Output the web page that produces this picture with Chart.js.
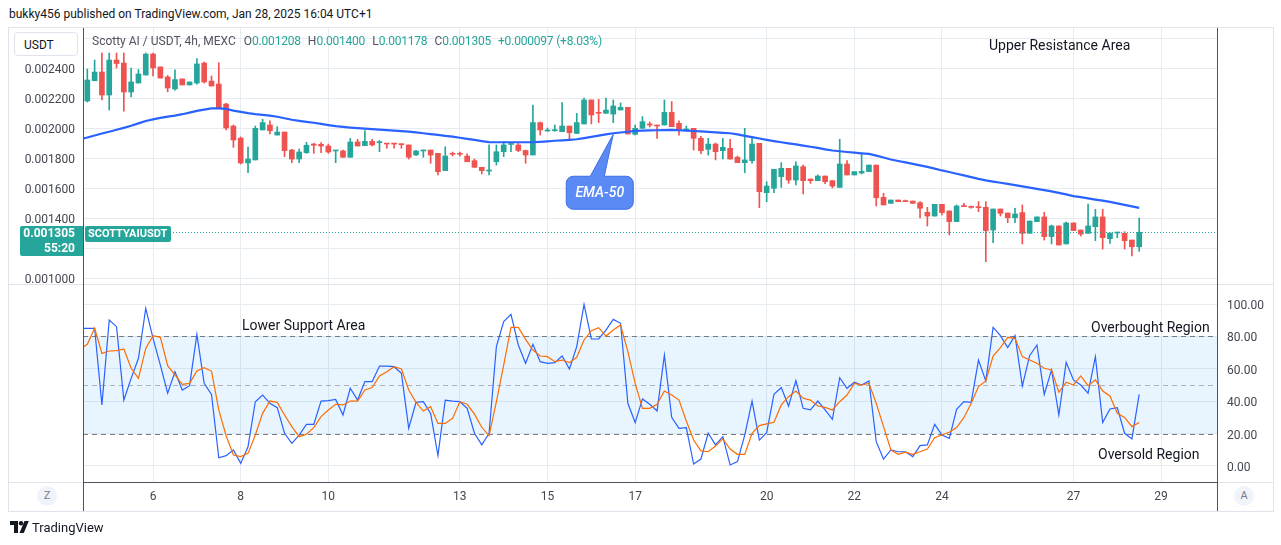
<!DOCTYPE html>
<html>
<head>
<meta charset="utf-8">
<script src="https://cdn.jsdelivr.net/npm/chart.js@4.4.1/dist/chart.umd.min.js"></script>
<style>
  html, body { margin: 0; padding: 0; background: #fff; }
  body { width: 1281px; height: 545px; position: relative; overflow: hidden; font-family: Roboto, "Open Sans", sans-serif; color: #131722; }
  .abs { position: absolute; }
  canvas { position: absolute; }
  #header { left: 9px; top: 7px; font-size: 12px; color: #131722; white-space: nowrap; }
  #legend { left: 92px; top: 34px; font-size: 12px; white-space: nowrap; color: #50535e; }
  #legend .v { color: #26a69a; letter-spacing: -0.2px; }
  #legend .g { margin-left: 7px; }
  .note { font-size: 14px; color: #131722; white-space: nowrap; }
  .circ { width: 20px; height: 20px; border-radius: 50%; background: #f0f3fa; color: #787b86; font-size: 11px; text-align: center; line-height: 20px; }
</style>
</head>
<body>
<div id="header" class="abs">bukky456 published on TradingView.com, Jan 28, 2025 16:04 UTC+1</div>

<!-- frame lines -->
<div class="abs" style="left:8px;top:27px;width:1264px;height:483px;border:1px solid #e0e3eb;"></div>
<div class="abs" style="left:8px;top:284px;width:1265px;height:1px;background:#e0e3eb;"></div>

<canvas id="priceChart" width="1265" height="262" style="left:8px;top:28px;"></canvas>
<canvas id="stochChart" width="1265" height="227" style="left:8px;top:284px;"></canvas>

<div class="abs" style="left:8px;top:482px;width:1265px;height:1px;background:#e0e3eb;"></div>
<div class="abs" style="left:83px;top:482px;width:1134px;height:1px;background:#50535e;"></div>
<div class="abs" style="left:83px;top:28px;width:1px;height:483px;background:#50535e;"></div>
<div class="abs" style="left:1217px;top:28px;width:1px;height:483px;background:#50535e;"></div>

<div class="abs" style="left:14px;top:32px;width:64px;height:24px;border:1px solid #e0e3eb;border-radius:4px;background:#fff;font-size:12px;line-height:24px;color:#131722;box-sizing:border-box;padding-left:9px;">USDT</div>

<div id="legend" class="abs"><span>Scotty AI / USDT, 4h, MEXC</span><span style="margin-left:8px">O</span><span class="v">0.001208</span><span class="g">H</span><span class="v">0.001400</span><span class="g">L</span><span class="v">0.001178</span><span class="g">C</span><span class="v">0.001305</span><span class="v" style="margin-left:7px">+0.000097 (+8.03%)</span></div>

<!-- last price labels -->
<div class="abs" style="left:20px;top:226px;width:63px;height:30px;background:#26a69a;border-radius:2px 0 0 2px;"></div>
<div class="abs" style="left:20px;top:226px;width:55px;text-align:right;font-size:12px;font-weight:bold;color:#fff;line-height:15px;">0.001305<br>55:20</div>
<div class="abs" style="left:85px;top:226px;width:86px;height:16px;background:#26a69a;border-radius:2px;font-size:11px;font-weight:bold;color:#fff;line-height:16px;box-sizing:border-box;padding-left:3px;white-space:nowrap;">SCOTTYAIUSDT</div>

<!-- text drawings -->
<div class="abs note" style="left:989px;top:37px;">Upper Resistance Area</div>
<div class="abs note" style="left:242px;top:317px;">Lower Support Area</div>
<div class="abs note" style="left:1091px;top:319px;">Overbought Region</div>
<div class="abs note" style="left:1098px;top:446px;">Oversold Region</div>

<div class="abs circ" style="left:37px;top:486px;">Z</div>
<div class="abs circ" style="left:1234px;top:486px;">A</div>

<div class="abs" style="left:10px;top:520px;height:14px;display:flex;align-items:center;">
  <svg width="19" height="12" viewBox="0 0 19 12"><path d="M0 0h8v12H4V4H0z" fill="#131722"/><circle cx="11" cy="2.2" r="2.2" fill="#131722"/><path d="M14.5 0h4.3l-5 12H9.5z" fill="#131722"/></svg>
  <span style="font-size:13px;color:#131722;margin-left:3px;">TradingView</span>
</div>

<script>
// ---------- data ----------
const dayLabels = ['6', '8', '10', '13', '15', '17', '20', '22', '24', '27', '29'];
const dayTickIndex = [9, 21, 33, 51, 63, 75, 93, 105, 117, 135, 147];

const priceTicks = [0.0010, 0.0012, 0.0014, 0.0016, 0.0018, 0.0020, 0.0022, 0.0024, 0.0026];
const priceTickLabels = ['0.001000', '', '0.001400', '0.001600', '0.001800', '0.002000', '0.002200', '0.002400', ''];
const stochTicks = [0, 20, 40, 60, 80, 100];

const opens = [0.002180,0.002315,0.002373,0.002220,0.002453,0.002433,0.002240,0.002300,0.002353,0.002493,
0.002407,0.002340,0.002260,0.002327,0.002287,0.002300,0.002433,0.002313,0.002293,0.002160,
0.002013,0.001933,0.001767,0.001787,0.001987,0.002020,0.001953,0.001973,0.001853,0.001793,
0.001835,0.001893,0.001891,0.001880,0.001847,0.001847,0.001805,0.001907,0.001882,0.001911,
0.001902,0.001898,0.001898,0.001893,0.001887,0.001821,0.001847,0.001853,0.001831,0.001716,
0.001829,0.001829,0.001813,0.001782,0.001738,0.001713,0.001775,0.001842,0.001890,0.001887,
0.001850,0.001820,0.002036,0.001980,0.001982,0.001976,0.002013,0.001964,0.002027,0.002187,
0.002104,0.002098,0.002093,0.002120,0.002138,0.001958,0.001998,0.002027,0.002020,0.002020,
0.002104,0.002031,0.001987,0.001998,0.001931,0.001858,0.001893,0.001849,0.001865,0.001805,
0.001769,0.001782,0.001898,0.001569,0.001598,0.001676,0.001731,0.001653,0.001742,0.001660,
0.001649,0.001680,0.001649,0.001604,0.001760,0.001687,0.001700,0.001709,0.001753,0.001538,
0.001498,0.001520,0.001513,0.001513,0.001502,0.001438,0.001413,0.001491,0.001447,0.001376,
0.001480,0.001473,0.001473,0.001471,0.001320,0.001460,0.001433,0.001402,0.001436,0.001298,
0.001376,0.001407,0.001276,0.001347,0.001227,0.001367,0.001320,0.001298,0.001342,0.001407,
0.001262,0.001300,0.001298,0.001253,0.001208];
const highs = [0.002393,0.002453,0.002500,0.002500,0.002500,0.002500,0.002400,0.002390,0.002500,0.002500,
0.002407,0.002350,0.002387,0.002327,0.002307,0.002463,0.002440,0.002347,0.002435,0.002165,
0.002020,0.001940,0.001873,0.002013,0.002058,0.002047,0.002009,0.001973,0.001858,0.001860,
0.001905,0.001898,0.001902,0.001893,0.001851,0.001853,0.001931,0.001925,0.001982,0.001925,
0.001917,0.001898,0.001898,0.001893,0.001887,0.001851,0.001853,0.001853,0.001831,0.001875,
0.001840,0.001840,0.001827,0.001793,0.001738,0.001887,0.001887,0.001909,0.001897,0.001897,
0.001853,0.002153,0.002040,0.002000,0.002020,0.002169,0.002013,0.002098,0.002200,0.002187,
0.002191,0.002200,0.002187,0.002167,0.002138,0.002020,0.002076,0.002040,0.002020,0.002187,
0.002176,0.002047,0.002013,0.001998,0.001945,0.001931,0.001900,0.001931,0.001925,0.001813,
0.001998,0.001931,0.001898,0.001642,0.001725,0.001769,0.001731,0.001775,0.001753,0.001660,
0.001687,0.001680,0.001649,0.001925,0.001782,0.001709,0.001831,0.001753,0.001753,0.001565,
0.001520,0.001520,0.001520,0.001513,0.001509,0.001471,0.001491,0.001491,0.001447,0.001487,
0.001498,0.001480,0.001509,0.001509,0.001460,0.001460,0.001433,0.001464,0.001487,0.001380,
0.001407,0.001438,0.001353,0.001347,0.001373,0.001367,0.001320,0.001493,0.001458,0.001458,
0.001300,0.001302,0.001309,0.001253,0.001400];
const lows = [0.002173,0.002315,0.002187,0.002120,0.002400,0.002113,0.002207,0.002300,0.002353,0.002347,
0.002333,0.002242,0.002253,0.002287,0.002287,0.002293,0.002300,0.002280,0.002131,0.001987,
0.001871,0.001760,0.001702,0.001787,0.001987,0.001960,0.001953,0.001809,0.001769,0.001769,
0.001831,0.001831,0.001835,0.001831,0.001769,0.001805,0.001805,0.001880,0.001882,0.001880,
0.001842,0.001865,0.001865,0.001865,0.001793,0.001815,0.001805,0.001765,0.001687,0.001716,
0.001813,0.001813,0.001775,0.001738,0.001693,0.001687,0.001753,0.001809,0.001842,0.001842,
0.001765,0.001820,0.001953,0.001978,0.001978,0.001976,0.001925,0.001964,0.002027,0.002027,
0.002036,0.002098,0.002036,0.002120,0.001960,0.001953,0.001998,0.002007,0.001931,0.002020,
0.002009,0.001953,0.001982,0.001853,0.001829,0.001820,0.001787,0.001793,0.001793,0.001769,
0.001702,0.001765,0.001469,0.001509,0.001569,0.001604,0.001631,0.001620,0.001560,0.001631,
0.001649,0.001629,0.001600,0.001604,0.001687,0.001687,0.001693,0.001709,0.001480,0.001487,
0.001498,0.001509,0.001509,0.001498,0.001400,0.001347,0.001413,0.001420,0.001287,0.001376,
0.001476,0.001465,0.001442,0.001109,0.001235,0.001413,0.001369,0.001369,0.001227,0.001298,
0.001376,0.001253,0.001227,0.001220,0.001227,0.001316,0.001280,0.001298,0.001249,0.001193,
0.001231,0.001269,0.001193,0.001147,0.001178];
const closes = [0.002320,0.002373,0.002220,0.002453,0.002430,0.002240,0.002307,0.002360,0.002493,0.002400,
0.002333,0.002267,0.002323,0.002287,0.002307,0.002427,0.002307,0.002280,0.002131,0.002000,
0.001920,0.001767,0.001793,0.001998,0.002036,0.001982,0.001973,0.001849,0.001793,0.001840,
0.001885,0.001885,0.001880,0.001840,0.001851,0.001805,0.001907,0.001880,0.001911,0.001887,
0.001905,0.001893,0.001893,0.001889,0.001805,0.001847,0.001853,0.001820,0.001709,0.001813,
0.001825,0.001825,0.001775,0.001738,0.001716,0.001720,0.001842,0.001887,0.001897,0.001850,
0.001820,0.002036,0.001987,0.001984,0.001986,0.002013,0.001969,0.002036,0.002187,0.002087,
0.002098,0.002120,0.002147,0.002138,0.001960,0.001998,0.002042,0.002020,0.002013,0.002104,
0.002009,0.001987,0.001990,0.001931,0.001849,0.001893,0.001842,0.001871,0.001793,0.001769,
0.001787,0.001893,0.001575,0.001613,0.001725,0.001731,0.001653,0.001747,0.001649,0.001649,
0.001680,0.001642,0.001613,0.001760,0.001687,0.001709,0.001711,0.001753,0.001535,0.001487,
0.001520,0.001509,0.001509,0.001498,0.001465,0.001413,0.001491,0.001436,0.001376,0.001480,
0.001476,0.001471,0.001469,0.001316,0.001460,0.001431,0.001402,0.001427,0.001298,0.001380,
0.001407,0.001276,0.001347,0.001220,0.001367,0.001316,0.001293,0.001347,0.001407,0.001269,
0.001300,0.001302,0.001249,0.001208,0.001305];

// indicator series start one bar before the first candle (index -1)
const indicatorStart = -1;
const ema50 = [0.001925,
0.001937,0.001950,0.001963,0.001975,0.001988,0.002001,0.002015,0.002031,0.002047,0.002058,
0.002067,0.002076,0.002083,0.002092,0.002103,0.002114,0.002123,0.002131,0.002131,0.002127,
0.002116,0.002108,0.002099,0.002092,0.002087,0.002082,0.002075,0.002065,0.002055,0.002048,
0.002041,0.002035,0.002027,0.002019,0.002012,0.002007,0.002003,0.001999,0.001996,0.001993,
0.001989,0.001986,0.001983,0.001979,0.001976,0.001971,0.001965,0.001959,0.001954,0.001948,
0.001942,0.001935,0.001928,0.001921,0.001913,0.001906,0.001905,0.001905,0.001905,0.001905,
0.001905,0.001905,0.001908,0.001911,0.001915,0.001918,0.001921,0.001925,0.001933,0.001941,
0.001949,0.001957,0.001965,0.001970,0.001975,0.001981,0.001983,0.001984,0.001985,0.001986,
0.001987,0.001985,0.001983,0.001980,0.001977,0.001974,0.001971,0.001968,0.001965,0.001957,
0.001948,0.001939,0.001930,0.001921,0.001913,0.001905,0.001898,0.001891,0.001883,0.001875,
0.001867,0.001858,0.001850,0.001845,0.001840,0.001836,0.001831,0.001827,0.001816,0.001803,
0.001790,0.001780,0.001771,0.001761,0.001751,0.001741,0.001729,0.001717,0.001707,0.001695,
0.001684,0.001673,0.001661,0.001651,0.001643,0.001635,0.001627,0.001619,0.001611,0.001603,
0.001594,0.001586,0.001577,0.001567,0.001557,0.001546,0.001539,0.001531,0.001523,0.001516,
0.001507,0.001497,0.001487,0.001477,0.001467];
const stochK = [85,
85.0,85.0,37.7,90.1,86.0,40.7,54.1,66.5,97.3,78.8,
62.3,44.9,58.2,46.9,49.6,81.3,51.0,44.2,5.1,6.4,
9.9,1.6,11.9,39.7,43.8,38.7,36.0,20.2,14.0,19.1,
25.7,25.7,40.1,40.3,41.1,31.5,48.0,40.7,52.1,52.1,
61.7,61.7,61.3,57.2,23.3,39.3,39.7,32.5,6.4,40.7,
40.1,39.7,35.6,20.2,13.0,20.2,73.7,89.1,93.6,74.7,
63.4,75.1,64.4,63.4,63.8,67.9,59.9,73.7,99.8,78.4,
78.4,83.9,90.5,88.1,38.7,26.8,41.4,38.1,34.0,68.5,
30.0,23.3,23.7,1.2,4.3,20.2,13.0,18.1,0.6,2.7,
19.1,40.1,16.0,20.6,44.2,48.4,37.0,52.7,35.6,34.6,
40.1,34.6,28.8,54.5,47.9,51.7,50.0,52.5,15.0,4.3,
9.9,8.8,8.8,5.8,12.6,13.0,25.7,19.1,17.1,35.0,
39.7,39.3,65.4,52.5,85.6,80.5,73.1,80.5,49.4,68.1,
74.7,44.2,59.3,31.5,64.0,53.1,50.0,44.9,67.5,26.8,
35.2,36.0,20.2,16.7,44.2];
const stochD = [72,
75.1,85.0,69.5,71.0,71.2,72.2,60.3,54.1,72.6,80.5,
79.4,61.9,56.2,50.4,51.0,58.6,60.7,58.6,34.6,18.7,
6.8,5.8,7.8,19.1,32.5,40.1,39.3,31.5,24.3,18.1,
19.6,23.7,30.5,34.6,38.1,37.7,40.1,40.1,46.9,48.4,
55.6,58.2,61.3,59.9,46.9,39.3,33.9,36.6,26.3,26.3,
29.4,39.7,38.1,32.0,23.9,18.7,39.7,62.3,85.6,85.6,
78.2,71.6,67.9,67.5,64.4,65.4,63.8,67.1,77.8,83.5,
85.4,80.2,83.9,87.0,70.6,51.0,35.6,35.6,38.1,46.3,
43.8,40.7,27.8,16.0,9.3,8.8,12.3,16.7,10.5,7.2,
7.2,20.2,24.9,26.0,27.0,37.7,42.8,46.3,41.8,40.7,
37.0,36.2,34.6,39.7,43.8,51.0,50.0,51.0,38.7,24.3,
9.9,7.2,8.5,7.2,8.8,10.5,17.5,19.1,20.8,23.7,
29.8,38.7,49.0,52.5,67.9,73.1,79.4,78.8,67.5,65.4,
63.4,60.3,59.3,45.5,51.7,50.0,55.6,49.6,53.1,46.3,
43.2,32.5,30.0,24.3,26.8];

const stochBandUpper = 80, stochBandMiddle = 50, stochBandLower = 20;
const calloutIndex = 72;   // bar where the "EMA-50" note points to the line
const lastClose = closes[closes.length - 1];

// ---------- styling ----------
const UP = '#26a69a', DOWN = '#ef5350', EMA_BLUE = '#2962ff', K_BLUE = '#2962ff', D_ORANGE = '#ff6d00';
const GRID = '#e7ecf2';
const AXIS_TEXT = '#434651';
Chart.defaults.font.family = 'Roboto, "Open Sans", sans-serif';
Chart.defaults.font.size = 12;
Chart.defaults.color = AXIS_TEXT;

const xMin = -0.59, xMax = 154.65;
const xTickBuilder = s => { s.ticks = dayTickIndex.map(v => ({ value: v })); };
const forceW = w => s => { s.width = w; s.paddingTop = 0; s.paddingBottom = 0; };
const forceH = h => s => { s.height = h; s.paddingLeft = 0; s.paddingRight = 0; };
const candleColor = ctx => closes[ctx.dataIndex] >= opens[ctx.dataIndex] ? UP : DOWN;
const idx = (arr, start) => arr.map((v, k) => ({ x: k + start, y: v }));

// ---------- plugins ----------
const lastPricePlugin = {
  id: 'lastPrice',
  afterDatasetsDraw(chart) {
    const { ctx, chartArea, scales } = chart;
    const y = Math.round(scales.y.getPixelForValue(lastClose)) + 0.5;
    ctx.save();
    ctx.strokeStyle = UP; ctx.lineWidth = 1; ctx.setLineDash([1, 2]);
    ctx.beginPath(); ctx.moveTo(chartArea.left, y); ctx.lineTo(chartArea.right, y); ctx.stroke();
    ctx.restore();
  }
};
const calloutPlugin = {
  id: 'callout',
  afterDatasetsDraw(chart) {
    const { ctx, scales } = chart;
    const tx = scales.x.getPixelForValue(calloutIndex);
    const ty = scales.y.getPixelForValue(ema50[calloutIndex - indicatorStart]);
    const L = tx - 47, R = tx + 20, T = ty + 43, B = ty + 76, r = 7;
    const b1 = tx - 23, b2 = tx - 9;
    ctx.save();
    ctx.beginPath();
    ctx.moveTo(L + r, T);
    ctx.lineTo(b1, T); ctx.lineTo(tx, ty + 1); ctx.lineTo(b2, T);
    ctx.lineTo(R - r, T); ctx.arcTo(R, T, R, T + r, r);
    ctx.lineTo(R, B - r); ctx.arcTo(R, B, R - r, B, r);
    ctx.lineTo(L + r, B); ctx.arcTo(L, B, L, B - r, r);
    ctx.lineTo(L, T + r); ctx.arcTo(L, T, L + r, T, r);
    ctx.closePath();
    ctx.fillStyle = '#5b8af5'; ctx.fill();
    ctx.strokeStyle = '#3c6ee6'; ctx.lineWidth = 1; ctx.stroke();
    ctx.fillStyle = '#ffffff';
    ctx.font = 'italic 500 14px Roboto, sans-serif';
    ctx.textAlign = 'center'; ctx.textBaseline = 'middle';
    ctx.fillText('EMA-50', (L + R) / 2, (T + B) / 2 + 1);
    ctx.restore();
  }
};
const bandPlugin = {
  id: 'band',
  beforeDatasetsDraw(chart) {
    const { ctx, chartArea, scales } = chart;
    const yU = scales.y.getPixelForValue(stochBandUpper);
    const yL = scales.y.getPixelForValue(stochBandLower);
    const yM = scales.y.getPixelForValue(stochBandMiddle);
    ctx.save();
    ctx.fillStyle = 'rgba(33,150,243,0.1)';
    ctx.fillRect(chartArea.left, yU, chartArea.right - chartArea.left, yL - yU);
    ctx.lineWidth = 1; ctx.setLineDash([5, 4]);
    [[yU, '#787b86'], [yM, 'rgba(120,123,134,0.55)'], [yL, '#787b86']].forEach(([y, c]) => {
      ctx.strokeStyle = c;
      ctx.beginPath(); ctx.moveTo(chartArea.left, Math.round(y) + 0.5); ctx.lineTo(chartArea.right, Math.round(y) + 0.5); ctx.stroke();
    });
    ctx.restore();
  }
};

// ---------- price pane ----------
new Chart(document.getElementById('priceChart'), {
  type: 'bar',
  data: {
    datasets: [
      { type: 'line', label: 'EMA 50', data: idx(ema50, indicatorStart), borderColor: EMA_BLUE, borderWidth: 2.2, pointRadius: 0, tension: 0 },
      { type: 'bar', label: 'Body', data: opens.map((o, i) => ({ x: i, y: [o, closes[i]] })), backgroundColor: candleColor,
        grouped: false, barPercentage: 0.7, categoryPercentage: 1, barThickness: 5, maxBarThickness: 5, minBarLength: 1, borderWidth: 0 },
      { type: 'bar', label: 'Wick', data: lows.map((l, i) => ({ x: i, y: [l, highs[i]] })), backgroundColor: candleColor,
        grouped: false, barPercentage: 0.14, categoryPercentage: 1, barThickness: 1, maxBarThickness: 1, borderWidth: 0 }
    ]
  },
  options: {
    responsive: false, animation: false, events: [],
    layout: { padding: { left: 0, right: 56, top: 0, bottom: 6 } },
    plugins: { legend: { display: false }, tooltip: { enabled: false } },
    scales: {
      x: { type: 'linear', min: xMin, max: xMax, offset: false, afterBuildTicks: xTickBuilder, afterFit: forceH(0),
           grid: { color: GRID, drawTicks: false, offset: false }, border: { display: false }, ticks: { display: false } },
      y: { type: 'linear', position: 'left', min: 0.00096, max: 0.0026667,
           afterBuildTicks: s => { s.ticks = priceTicks.map(v => ({ value: v })); }, afterFit: forceW(75),
           ticks: { padding: 8, labelOffset: 1.5, color: AXIS_TEXT, callback: (v, i) => priceTickLabels[i] },
           grid: { color: GRID, drawTicks: false }, border: { display: false } }
    }
  },
  plugins: [lastPricePlugin, calloutPlugin]
});

// ---------- stochastic pane ----------
new Chart(document.getElementById('stochChart'), {
  type: 'line',
  data: {
    datasets: [
      { label: '%D', data: idx(stochD, indicatorStart), borderColor: D_ORANGE, borderWidth: 1.2, pointRadius: 0, tension: 0 },
      { label: '%K', data: idx(stochK, indicatorStart), borderColor: K_BLUE, borderWidth: 1.2, pointRadius: 0, tension: 0 }
    ]
  },
  options: {
    responsive: false, animation: false, events: [],
    layout: { padding: { left: 75, right: 0, top: 1, bottom: 0 } },
    plugins: { legend: { display: false }, tooltip: { enabled: false } },
    scales: {
      x: { type: 'linear', min: xMin, max: xMax, afterBuildTicks: xTickBuilder, afterFit: forceH(29),
           ticks: { padding: 8, autoSkip: false, maxRotation: 0, color: AXIS_TEXT, callback: (v, i) => dayLabels[i] },
           grid: { color: GRID, drawTicks: false }, border: { display: false } },
      y: { type: 'linear', position: 'right', min: -9.88, max: 111.73,
           afterBuildTicks: s => { s.ticks = stochTicks.map(v => ({ value: v })); }, afterFit: forceW(56),
           ticks: { padding: 10, labelOffset: 2, color: AXIS_TEXT, callback: v => Number(v).toFixed(2) },
           grid: { color: GRID, drawTicks: false }, border: { display: false } }
    }
  },
  plugins: [bandPlugin]
});
</script>
</body>
</html>
